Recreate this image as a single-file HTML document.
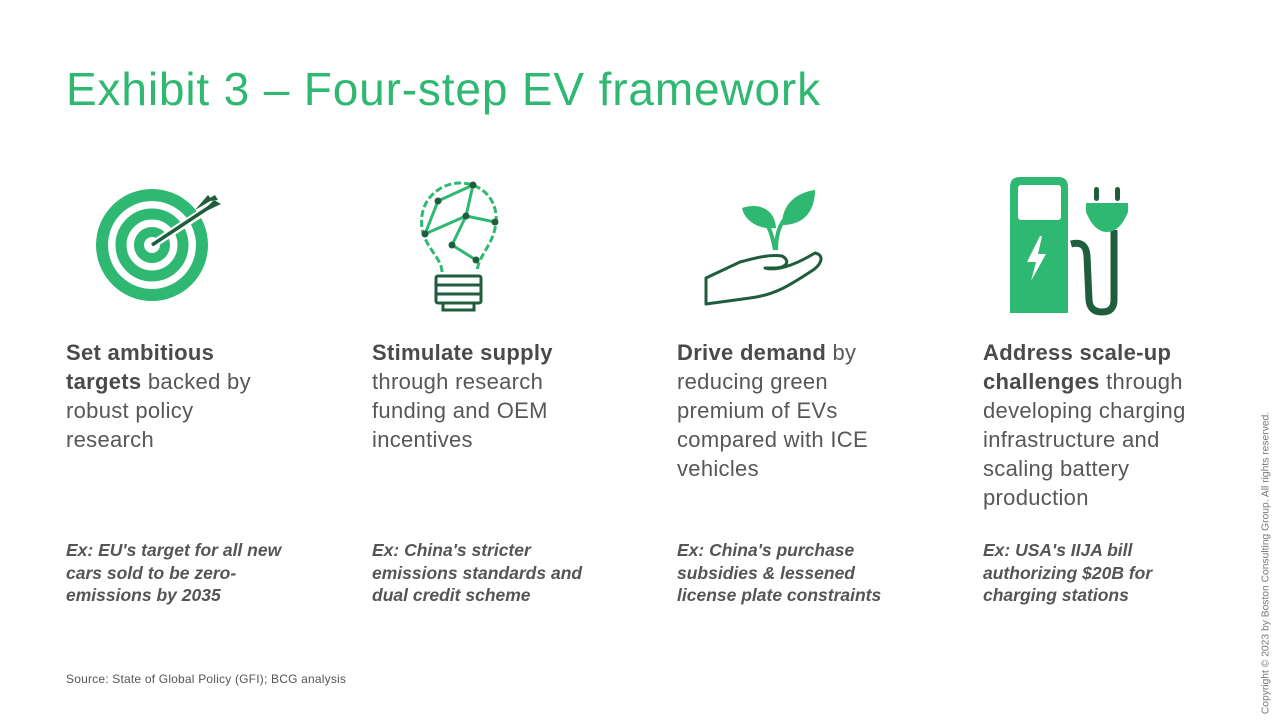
<!DOCTYPE html>
<html><head><meta charset="utf-8"><style>
body{margin:0;width:1280px;height:720px;background:#fff;position:relative;overflow:hidden;font-family:"Liberation Sans",sans-serif;color:#575757}
.t{position:absolute;left:66px;top:62px;font-size:46px;color:#2fb871;letter-spacing:0.85px;white-space:nowrap}
.c{position:absolute;top:338px;width:300px;font-size:22px;line-height:29px;letter-spacing:0.3px;white-space:nowrap}
.c b{color:#4a4a4a}
.e{position:absolute;top:539px;width:300px;font-size:17.5px;line-height:22.6px;font-style:italic;font-weight:bold;color:#555;white-space:nowrap}
.s{position:absolute;left:66px;top:672px;font-size:12px;color:#555;letter-spacing:0.2px}
.cp{position:absolute;left:1266px;top:563px;transform:translate(-50%,-50%) rotate(-90deg);font-size:10.3px;color:#777;white-space:nowrap}
svg{position:absolute;left:0;top:0}
</style></head><body>
<div class="t">Exhibit 3 – Four-step EV framework</div>
<svg width="1280" height="720">
<circle cx="152" cy="245" r="50" fill="none" stroke="#2fb871" stroke-width="12"/>
<circle cx="152" cy="245" r="31" fill="none" stroke="#2fb871" stroke-width="11"/>
<circle cx="152" cy="245" r="13" fill="none" stroke="#2fb871" stroke-width="10"/>
<line x1="152" y1="245" x2="212" y2="206" stroke="#fff" stroke-width="8"/>
<line x1="152" y1="245" x2="214" y2="204" stroke="#1e5e3c" stroke-width="3.5"/>
<path d="M195 210 L208 195 L212 200 Z M200 214 L221 204 L214 200 Z M203 202 L215 195 L218 200Z" fill="#1e5e3c"/>
<path d="M442 272 C442 258 425 248 422 228 C418 200 440 183 460 183 C482 183 498 200 496 222 C494 245 478 255 477 272" fill="none" stroke="#2fb871" stroke-width="3" stroke-dasharray="7 3"/>
<g stroke="#2fb871" stroke-width="3">
<line x1="425" y1="234" x2="466" y2="216"/><line x1="466" y1="216" x2="473" y2="185"/><line x1="466" y1="216" x2="495" y2="222"/>
<line x1="438" y1="201" x2="473" y2="185"/><line x1="438" y1="201" x2="425" y2="234"/><line x1="466" y1="216" x2="452" y2="245"/><line x1="452" y1="245" x2="476" y2="260"/></g>
<g fill="#1e5e3c"><circle cx="473" cy="185" r="3.5"/><circle cx="438" cy="201" r="3.5"/><circle cx="466" cy="216" r="3.5"/><circle cx="495" cy="222" r="3.5"/><circle cx="425" cy="234" r="3.5"/><circle cx="452" cy="245" r="3.5"/><circle cx="476" cy="260" r="3.5"/></g>
<rect x="436" y="276" width="45" height="27" rx="2" fill="none" stroke="#1e5e3c" stroke-width="3"/>
<line x1="436" y1="285" x2="481" y2="285" stroke="#1e5e3c" stroke-width="3"/><line x1="436" y1="294" x2="481" y2="294" stroke="#1e5e3c" stroke-width="3"/>
<path d="M443 303 L443 310 L474 310 L474 303" fill="none" stroke="#1e5e3c" stroke-width="3"/>
<path d="M775 250 C772 235 770 225 760 218 M776 250 C776 230 782 218 795 210" stroke="#2fb871" stroke-width="4" fill="none"/>
<path d="M742 208 C760 202 775 210 776 228 C760 230 745 222 742 208Z" fill="#2fb871"/>
<path d="M815 190 C815 210 805 225 782 225 C782 205 795 193 815 190Z" fill="#2fb871"/>
<path d="M706 304 L706 278 L740 262 C755 258 770 254 782 256 C790 260 788 268 775 268 L765 268 C780 272 800 262 815 253 C825 255 822 265 810 272 C790 285 775 295 750 298 Z" fill="none" stroke="#1e5e3c" stroke-width="3" stroke-linejoin="round"/>
<path d="M1010 313 L1010 187 Q1010 177 1020 177 L1058 177 Q1068 177 1068 187 L1068 313Z" fill="#2fb871"/>
<rect x="1018" y="185" width="43" height="35" rx="3" fill="#fff"/>
<path d="M1040 236 L1027 262 L1036 262 L1031 281 L1046 254 L1038 254 L1042 236Z" fill="#fff"/>
<path d="M1071 244 Q1086 240 1087 256 L1089 300 Q1090 312 1102 312 Q1114 312 1114 300 L1114 230" fill="none" stroke="#1e5e3c" stroke-width="7"/>
<path d="M1086 203 L1128 203 L1128 212 Q1120 232 1107 232 Q1094 232 1086 212Z" fill="#2fb871"/>
<rect x="1094" y="187" width="5" height="14" rx="2.5" fill="#1e5e3c"/><rect x="1115" y="187" width="5" height="14" rx="2.5" fill="#1e5e3c"/>
</svg>
<div class="c" style="left:66px"><b>Set ambitious<br>targets</b> backed by<br>robust policy<br>research</div>
<div class="c" style="left:372px"><b>Stimulate supply</b><br>through research<br>funding and OEM<br>incentives</div>
<div class="c" style="left:677px"><b>Drive demand</b> by<br>reducing green<br>premium of EVs<br>compared with ICE<br>vehicles</div>
<div class="c" style="left:983px"><b>Address scale-up<br>challenges</b> through<br>developing charging<br>infrastructure and<br>scaling battery<br>production</div>
<div class="e" style="left:66px">Ex: EU's target for all new<br>cars sold to be zero-<br>emissions by 2035</div>
<div class="e" style="left:372px">Ex: China's stricter<br>emissions standards and<br>dual credit scheme</div>
<div class="e" style="left:677px">Ex: China's purchase<br>subsidies &amp; lessened<br>license plate constraints</div>
<div class="e" style="left:983px">Ex: USA's IIJA bill<br>authorizing $20B for<br>charging stations</div>
<div class="s">Source: State of Global Policy (GFI); BCG analysis</div>
<div class="cp">Copyright © 2023 by Boston Consulting Group. All rights reserved.</div>
</body></html>
